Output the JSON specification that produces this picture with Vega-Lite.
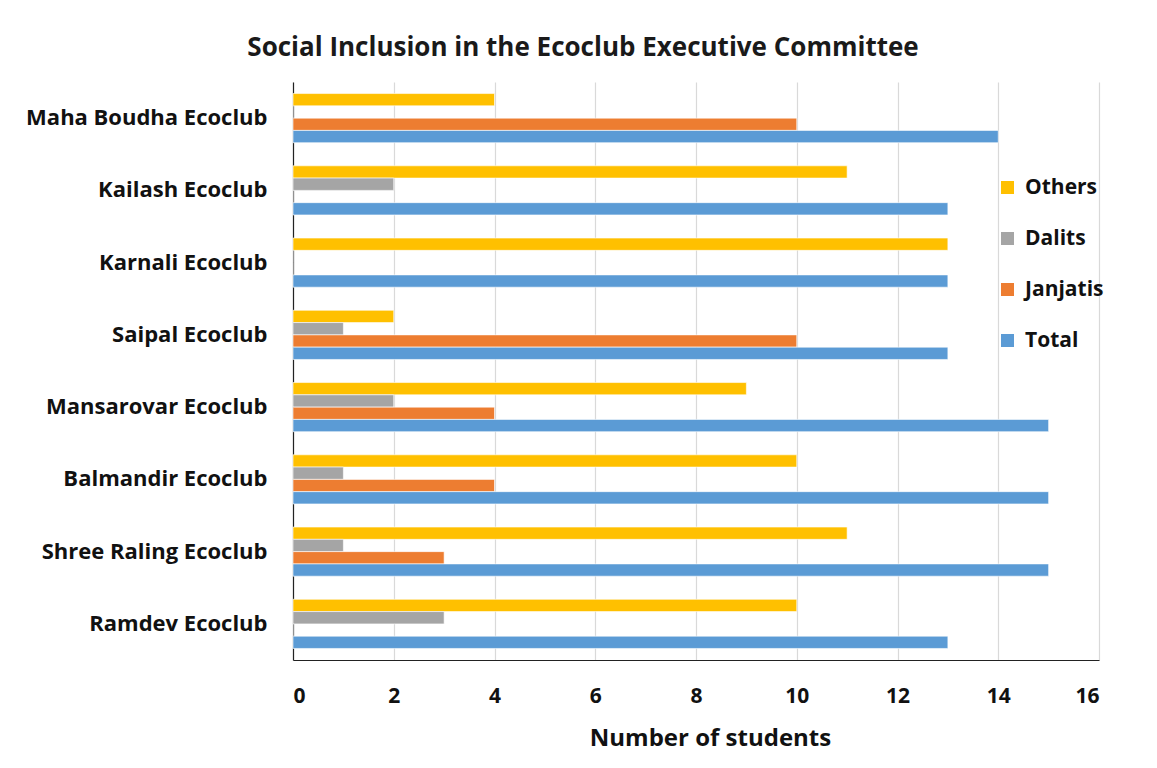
{
  "$schema": "https://vega.github.io/schema/vega-lite/v6.json",
  "autosize": {"type": "none"},
  "padding": {"left": 293, "top": 82, "right": 58, "bottom": 108},
  "width": 806,
  "height": 578,
  "background": "white",
  "title": {
    "text": "Social Inclusion in the Ecoclub Executive Committee",
    "font": "Open Sans", "fontSize": 26, "fontWeight": "bold", "color": "#1a1a1a",
    "anchor": "middle", "dx": -113, "offset": 21
  },
  "config": {
    "font": "Open Sans",
    "view": {"stroke": null},
    "axis": {"labelFont": "Open Sans", "titleFont": "Open Sans", "labelFontWeight": "bold", "titleFontWeight": "bold", "labelColor": "#111", "titleColor": "#111"}
  },
  "data": {
    "values": [
      {"club": "Maha Boudha Ecoclub", "group": "Others", "count": 4},
      {"club": "Maha Boudha Ecoclub", "group": "Dalits", "count": 0},
      {"club": "Maha Boudha Ecoclub", "group": "Janjatis", "count": 10},
      {"club": "Maha Boudha Ecoclub", "group": "Total", "count": 14},
      {"club": "Kailash Ecoclub", "group": "Others", "count": 11},
      {"club": "Kailash Ecoclub", "group": "Dalits", "count": 2},
      {"club": "Kailash Ecoclub", "group": "Janjatis", "count": 0},
      {"club": "Kailash Ecoclub", "group": "Total", "count": 13},
      {"club": "Karnali Ecoclub", "group": "Others", "count": 13},
      {"club": "Karnali Ecoclub", "group": "Dalits", "count": 0},
      {"club": "Karnali Ecoclub", "group": "Janjatis", "count": 0},
      {"club": "Karnali Ecoclub", "group": "Total", "count": 13},
      {"club": "Saipal Ecoclub", "group": "Others", "count": 2},
      {"club": "Saipal Ecoclub", "group": "Dalits", "count": 1},
      {"club": "Saipal Ecoclub", "group": "Janjatis", "count": 10},
      {"club": "Saipal Ecoclub", "group": "Total", "count": 13},
      {"club": "Mansarovar Ecoclub", "group": "Others", "count": 9},
      {"club": "Mansarovar Ecoclub", "group": "Dalits", "count": 2},
      {"club": "Mansarovar Ecoclub", "group": "Janjatis", "count": 4},
      {"club": "Mansarovar Ecoclub", "group": "Total", "count": 15},
      {"club": "Balmandir Ecoclub", "group": "Others", "count": 10},
      {"club": "Balmandir Ecoclub", "group": "Dalits", "count": 1},
      {"club": "Balmandir Ecoclub", "group": "Janjatis", "count": 4},
      {"club": "Balmandir Ecoclub", "group": "Total", "count": 15},
      {"club": "Shree Raling Ecoclub", "group": "Others", "count": 11},
      {"club": "Shree Raling Ecoclub", "group": "Dalits", "count": 1},
      {"club": "Shree Raling Ecoclub", "group": "Janjatis", "count": 3},
      {"club": "Shree Raling Ecoclub", "group": "Total", "count": 15},
      {"club": "Ramdev Ecoclub", "group": "Others", "count": 10},
      {"club": "Ramdev Ecoclub", "group": "Dalits", "count": 3},
      {"club": "Ramdev Ecoclub", "group": "Janjatis", "count": 0},
      {"club": "Ramdev Ecoclub", "group": "Total", "count": 13}
    ]
  },
  "mark": {"type": "bar", "stroke": "white", "strokeWidth": 0.6},
  "encoding": {
    "y": {
      "field": "club", "type": "nominal", "sort": null, "title": null,
      "scale": {"paddingInner": 0.32, "paddingOuter": 0.16},
      "axis": {"ticks": false, "domainColor": "#222", "domainWidth": 1.2, "labelFontSize": 22, "labelPadding": 26, "labelLimit": 300}
    },
    "yOffset": {
      "field": "group", "type": "nominal",
      "sort": ["Others", "Dalits", "Janjatis", "Total"],
      "scale": {"paddingInner": 0, "paddingOuter": 0}
    },
    "x": {
      "field": "count", "type": "quantitative", "title": "Number of students",
      "scale": {"domain": [0, 16], "nice": false},
      "axis": {"values": [0, 2, 4, 6, 8, 10, 12, 14, 16], "ticks": false, "grid": true, "gridColor": "#d9d9d9", "gridWidth": 1.2, "domainColor": "#222", "domainWidth": 1.2, "labelFontSize": 21, "labelPadding": 25, "titleFontSize": 24, "titlePadding": 20, "titleX": 417}
    },
    "color": {
      "field": "group", "type": "nominal",
      "sort": ["Others", "Dalits", "Janjatis", "Total"],
      "scale": {"domain": ["Others", "Dalits", "Janjatis", "Total"], "range": ["#FFC000", "#A5A5A5", "#ED7D31", "#5B9BD5"]},
      "legend": {
        "title": null, "orient": "none", "legendX": 704, "legendY": 95,
        "symbolType": "square", "symbolSize": 170, "symbolStrokeWidth": 0,
        "labelFontSize": 21, "labelFontWeight": "bold", "labelColor": "#111", "labelFont": "Open Sans",
        "rowPadding": 29, "labelOffset": 7
      }
    }
  }
}
